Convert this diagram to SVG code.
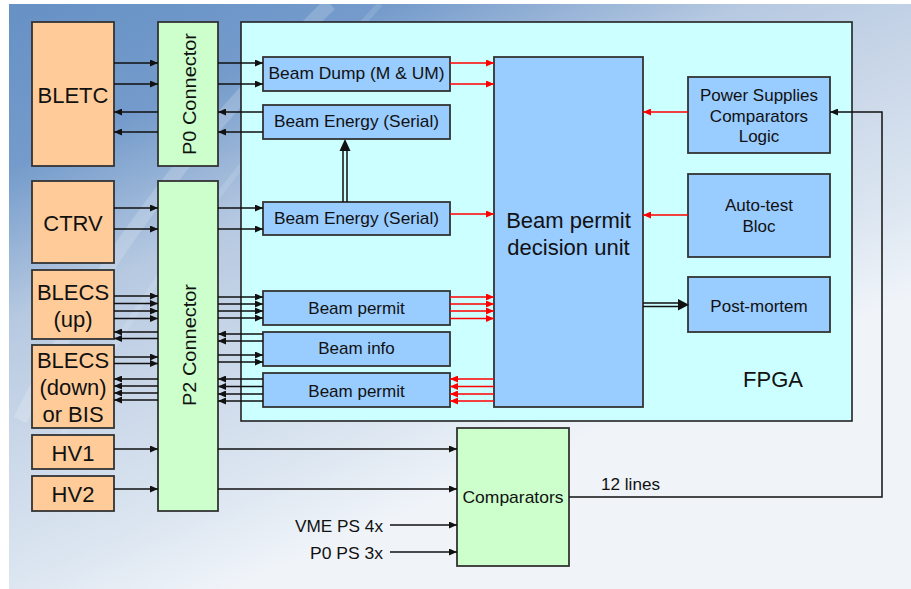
<svg xmlns="http://www.w3.org/2000/svg" width="911" height="589" viewBox="0 0 911 589">
<defs>
<linearGradient id="bg" gradientUnits="userSpaceOnUse" x1="60" y1="0" x2="300" y2="560">
<stop offset="0" stop-color="#6892c6"/>
<stop offset="0.22" stop-color="#749bcb"/>
<stop offset="0.45" stop-color="#b6c9e1"/>
<stop offset="0.6" stop-color="#c6d4e7"/>
<stop offset="0.85" stop-color="#dce6f1"/>
<stop offset="1" stop-color="#f0f4f9"/>
</linearGradient>
<marker id="ah" viewBox="0 0 8 7" refX="8" refY="3.5" markerWidth="8" markerHeight="7" markerUnits="userSpaceOnUse" orient="auto">
<path d="M0,0 L8,3.5 L0,7 z" fill="#111"/>
</marker>
<marker id="ar" viewBox="0 0 8 7" refX="8" refY="3.5" markerWidth="8" markerHeight="7" markerUnits="userSpaceOnUse" orient="auto">
<path d="M0,0 L8,3.5 L0,7 z" fill="#ff0000"/>
</marker>
</defs>
<style>
.ext{fill:#ffcc99;stroke:#333;stroke-width:1.8}
.con{fill:#ccffcc;stroke:#333;stroke-width:1.8}
.fpga{fill:#ccffff;stroke:#222;stroke-width:1.6}
.blk{fill:#99ccff;stroke:#333;stroke-width:1.8}
text{font-family:"Liberation Sans",Arial,sans-serif;fill:#111;text-anchor:middle}
.big{font-size:22px}
.mid{font-size:17px}
.k{fill:none;stroke:#111;stroke-width:1.5}
.ka{fill:none;stroke:#111;stroke-width:1.5;marker-end:url(#ah)}
.ra{fill:none;stroke:#ff0000;stroke-width:1.5;marker-end:url(#ar)}
</style>
<rect x="9" y="4" width="902" height="585" fill="url(#bg)"/>
<path d="M20,420 C80,300 160,170 330,4" fill="none" stroke="#ffffff" stroke-opacity="0.18" stroke-width="14"/>
<path d="M60,440 C120,330 200,200 380,4" fill="none" stroke="#ffffff" stroke-opacity="0.12" stroke-width="6"/>

<g id="fpga"><rect class="fpga" x="241" y="22" width="611" height="399"/><text class="big" x="773" y="387">FPGA</text></g>
<g id="bletc"><rect class="ext" x="32" y="22" width="82" height="144"/><text class="big" x="73" y="103">BLETC</text></g>
<g id="ctrv"><rect class="ext" x="32" y="181" width="82" height="82"/><text class="big" x="73" y="231">CTRV</text></g>
<g id="blecs-up"><rect class="ext" x="32" y="270" width="82" height="69"/><text class="big" x="73" y="300">BLECS</text><text class="big" x="73" y="327">(up)</text></g>
<g id="blecs-down"><rect class="ext" x="32" y="345" width="82" height="83"/><text class="big" x="73" y="368">BLECS</text><text class="big" x="73" y="395">(down)</text><text class="big" x="73" y="422">or BIS</text></g>
<g id="hv1"><rect class="ext" x="32" y="435" width="82" height="34"/><text class="big" x="73" y="461">HV1</text></g>
<g id="hv2"><rect class="ext" x="32" y="476" width="82" height="35"/><text class="big" x="73" y="502">HV2</text></g>
<g id="p0"><rect class="con" x="158" y="22" width="60" height="144"/><text style="font-size:18px" transform="translate(196,94) rotate(-90)" textLength="122" lengthAdjust="spacingAndGlyphs">P0 Connector</text></g>
<g id="p2"><rect class="con" x="158" y="181" width="60" height="330"/><text style="font-size:18px" transform="translate(196,345) rotate(-90)" textLength="122" lengthAdjust="spacingAndGlyphs">P2 Connector</text></g>
<g id="beam-dump"><rect class="blk" x="263" y="57" width="187" height="34"/><text class="mid" x="356.5" y="79" textLength="176" lengthAdjust="spacingAndGlyphs">Beam Dump (M &amp; UM)</text></g>
<g id="beam-energy-out"><rect class="blk" x="263" y="105" width="187" height="34"/><text class="mid" x="356.5" y="127" textLength="165" lengthAdjust="spacingAndGlyphs">Beam Energy (Serial)</text></g>
<g id="beam-energy-in"><rect class="blk" x="263" y="202" width="187" height="33"/><text class="mid" x="356.5" y="224" textLength="165" lengthAdjust="spacingAndGlyphs">Beam Energy (Serial)</text></g>
<g id="beam-permit-in"><rect class="blk" x="263" y="291" width="187" height="34"/><text class="mid" x="356.5" y="314">Beam permit</text></g>
<g id="beam-info"><rect class="blk" x="263" y="332" width="187" height="34"/><text class="mid" x="356.5" y="354">Beam info</text></g>
<g id="beam-permit-out"><rect class="blk" x="263" y="373" width="187" height="34"/><text class="mid" x="356.5" y="397">Beam permit</text></g>
<g id="decision"><rect class="blk" x="494" y="57" width="149" height="350"/><text class="big" x="568.5" y="228">Beam permit</text><text class="big" x="568.5" y="255">decision unit</text></g>
<g id="ps-logic"><rect class="blk" x="688" y="77" width="142" height="76"/><text class="mid" x="759" y="101">Power Supplies</text><text class="mid" x="759" y="122">Comparators</text><text class="mid" x="759" y="142">Logic</text></g>
<g id="autotest"><rect class="blk" x="688" y="174" width="142" height="83"/><text class="mid" x="759" y="211">Auto-test</text><text class="mid" x="759" y="232">Bloc</text></g>
<g id="postmortem"><rect class="blk" x="688" y="277" width="142" height="55"/><text class="mid" x="759" y="312">Post-mortem</text></g>
<g id="comparators"><rect class="con" x="457" y="428" width="112" height="138"/><text class="mid" x="513" y="503" textLength="101" lengthAdjust="spacingAndGlyphs">Comparators</text></g>
<g id="labels">
<text class="mid" x="630.5" y="490" textLength="59" lengthAdjust="spacingAndGlyphs">12 lines</text>
<text class="mid" x="339" y="532" textLength="88" lengthAdjust="spacingAndGlyphs">VME PS 4x</text>
<text class="mid" x="346.5" y="559" textLength="73" lengthAdjust="spacingAndGlyphs">P0 PS 3x</text>
</g>

<g id="connectors">
<path class="ka" d="M114,63 H158"/><path class="ka" d="M114,84 H158"/>
<path class="ka" d="M158,112 H114"/><path class="ka" d="M158,132 H114"/>
<path class="ka" d="M218,63 H263"/><path class="ka" d="M218,84 H263"/>
<path class="ka" d="M263,112 H218"/><path class="ka" d="M263,132 H218"/>
<path class="ka" d="M114,208 H158"/><path class="ka" d="M114,229 H158"/>
<path class="ka" d="M218,208 H263"/><path class="ka" d="M218,229 H263"/>
<path class="ka" d="M114,296 H158"/><path class="ka" d="M114,303.5 H158"/><path class="ka" d="M114,311 H158"/><path class="ka" d="M114,318.5 H158"/>
<path class="ka" d="M158,332 H114"/><path class="ka" d="M158,338.5 H114"/>
<path class="ka" d="M114,357 H158"/><path class="ka" d="M114,363.5 H158"/>
<path class="ka" d="M158,379 H114"/><path class="ka" d="M158,386 H114"/><path class="ka" d="M158,393 H114"/><path class="ka" d="M158,400 H114"/>
<path class="ka" d="M218,297 H263"/><path class="ka" d="M218,304 H263"/><path class="ka" d="M218,311 H263"/><path class="ka" d="M218,318 H263"/>
<path class="ka" d="M263,334 H218"/><path class="ka" d="M263,341 H218"/>
<path class="ka" d="M218,355 H263"/><path class="ka" d="M218,362 H263"/>
<path class="ka" d="M263,379 H218"/><path class="ka" d="M263,386.5 H218"/><path class="ka" d="M263,394 H218"/><path class="ka" d="M263,401 H218"/>
<path class="ka" d="M114,449 H158"/><path class="ka" d="M114,489 H158"/>
<path class="ka" d="M218,449 H457"/><path class="ka" d="M218,489 H457"/>
<path class="ka" d="M390,525 H457"/><path class="ka" d="M390,552 H457"/>
<path class="ka" d="M569,497 H882 V112 H830"/>
<path class="ra" d="M450,63 H494"/><path class="ra" d="M450,84 H494"/>
<path class="ra" d="M450,214 H494"/>
<path class="ra" d="M450,297 H494"/><path class="ra" d="M450,304 H494"/><path class="ra" d="M450,311 H494"/><path class="ra" d="M450,318.5 H494"/>
<path class="ra" d="M494,379 H450"/><path class="ra" d="M494,386.5 H450"/><path class="ra" d="M494,394 H450"/><path class="ra" d="M494,401 H450"/>
<path class="ra" d="M688,112 H643"/><path class="ra" d="M688,215 H643"/>
<path class="k" d="M343,202 V150 M347,202 V150"/><path d="M345,139 L339.5,151 L350.5,151 z" fill="#111"/>
<path class="k" d="M643,303 H679 M643,306.5 H679"/><path d="M689,304.8 L678,299 L678,310.5 z" fill="#111"/>
</g>
</svg>
